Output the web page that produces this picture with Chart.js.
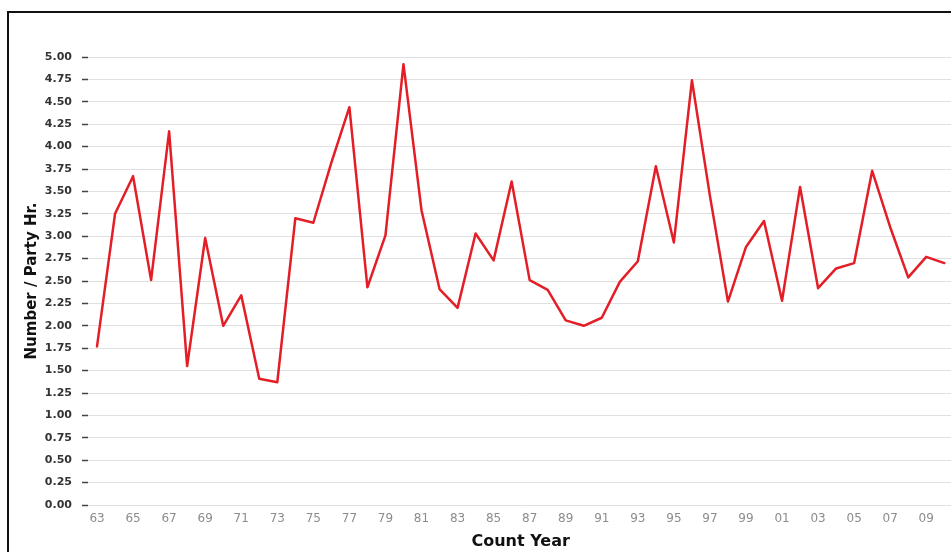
<!DOCTYPE html>
<html>
<head>
<meta charset="utf-8">
<script src="https://cdn.jsdelivr.net/npm/chart.js@4"></script>
<style>
  html, body { margin: 0; padding: 0; background: #fff; overflow: hidden; }
  #frame {
    position: absolute; left: 7px; top: 11px;
    width: 1000px; height: 600px;
    border: 2px solid #111; box-sizing: border-box;
  }
  #wrap { position: absolute; left: 0; top: 0; width: 960px; height: 552px; }
</style>
</head>
<body>
<div id="frame"></div>
<div id="wrap"><canvas id="countChart"></canvas></div>
<script>
// Count years 1963 - 2010 (two digit labels)
const years = [
  "63", "64", "65", "66", "67", "68", "69", "70", "71", "72",
  "73", "74", "75", "76", "77", "78", "79", "80", "81", "82",
  "83", "84", "85", "86", "87", "88", "89", "90", "91", "92",
  "93", "94", "95", "96", "97", "98", "99", "00", "01", "02",
  "03", "04", "05", "06", "07", "08", "09", "10"
];

// Number per party hour
const perPartyHour = [
  1.77, 3.25, 3.67, 2.51, 4.17, 1.55, 2.98, 2.00, 2.34, 1.41,
  1.37, 3.20, 3.15, 3.82, 4.44, 2.43, 3.01, 4.92, 3.29, 2.41,
  2.20, 3.03, 2.73, 3.61, 2.51, 2.40, 2.06, 2.00, 2.09, 2.49,
  2.72, 3.78, 2.93, 4.74, 3.45, 2.27, 2.88, 3.17, 2.28, 3.55,
  2.42, 2.64, 2.70, 3.73, 3.10, 2.54, 2.77, 2.70
];

// only every other year gets a tick label
const shownYears = ["63", "65", "67", "69", "71", "73", "75", "77", "79", "81", "83", "85",
  "87", "89", "91", "93", "95", "97", "99", "01", "03", "05", "07", "09"];

const ctx = document.getElementById("countChart").getContext("2d");
new Chart(ctx, {
  type: "line",
  data: {
    labels: years,
    datasets: [
      {
        label: "Number / Party Hr.",
        data: perPartyHour,
        borderColor: "#e41e26",
        borderWidth: 2.5,
        borderJoinStyle: "round",
        borderCapStyle: "round",
        pointRadius: 0,
        tension: 0,
        fill: false,
      },
    ],
  },
  options: {
    responsive: true,
    maintainAspectRatio: false,
    animation: false,
    layout: { padding: { top: 57, left: 0, right: 6.7, bottom: 0 } },
    plugins: { legend: { display: false }, tooltip: { enabled: false } },
    scales: {
      x: {
        type: "category",
        offset: true,
        afterFit: (axis) => { axis.height = 47; },
        grid: { display: false, drawTicks: false },
        border: { display: false },
        ticks: {
          autoSkip: false,
          maxRotation: 0,
          padding: 7,
          color: "#8c8c8c",
          font: { family: "DejaVu Sans", size: 12 },
          callback: function (value, index) {
            const lbl = this.getLabelForValue(value);
            return shownYears.includes(lbl) ? lbl : "";
          },
        },
        title: {
          display: true,
          text: "Count Year",
          color: "#111",
          font: { family: "DejaVu Sans", size: 16, weight: "bold" },
          padding: { top: 0, bottom: 1 },
        },
      },
      y: {
        min: 0,
        max: 5,
        afterFit: (axis) => { axis.width = 88; },
        grid: {
          color: "#e0e0e0",
          lineWidth: 1,
          tickLength: 12,
          tickColor: "#444",
          tickWidth: 1.5,
          tickBorderDash: [0, 6, 6, 30],
        },
        border: { display: false },
        ticks: {
          stepSize: 0.25,
          padding: 4,
          color: "#333",
          font: { family: "DejaVu Sans", size: 11, weight: "bold" },
          callback: (value) => value.toFixed(2),
        },
        title: {
          display: true,
          text: "Number / Party Hr.",
          color: "#111",
          font: { family: "DejaVu Sans", size: 15, weight: "bold" },
          padding: { top: 23, bottom: 0 },
        },
      },
    },
  },
});
</script>
</body>
</html>
